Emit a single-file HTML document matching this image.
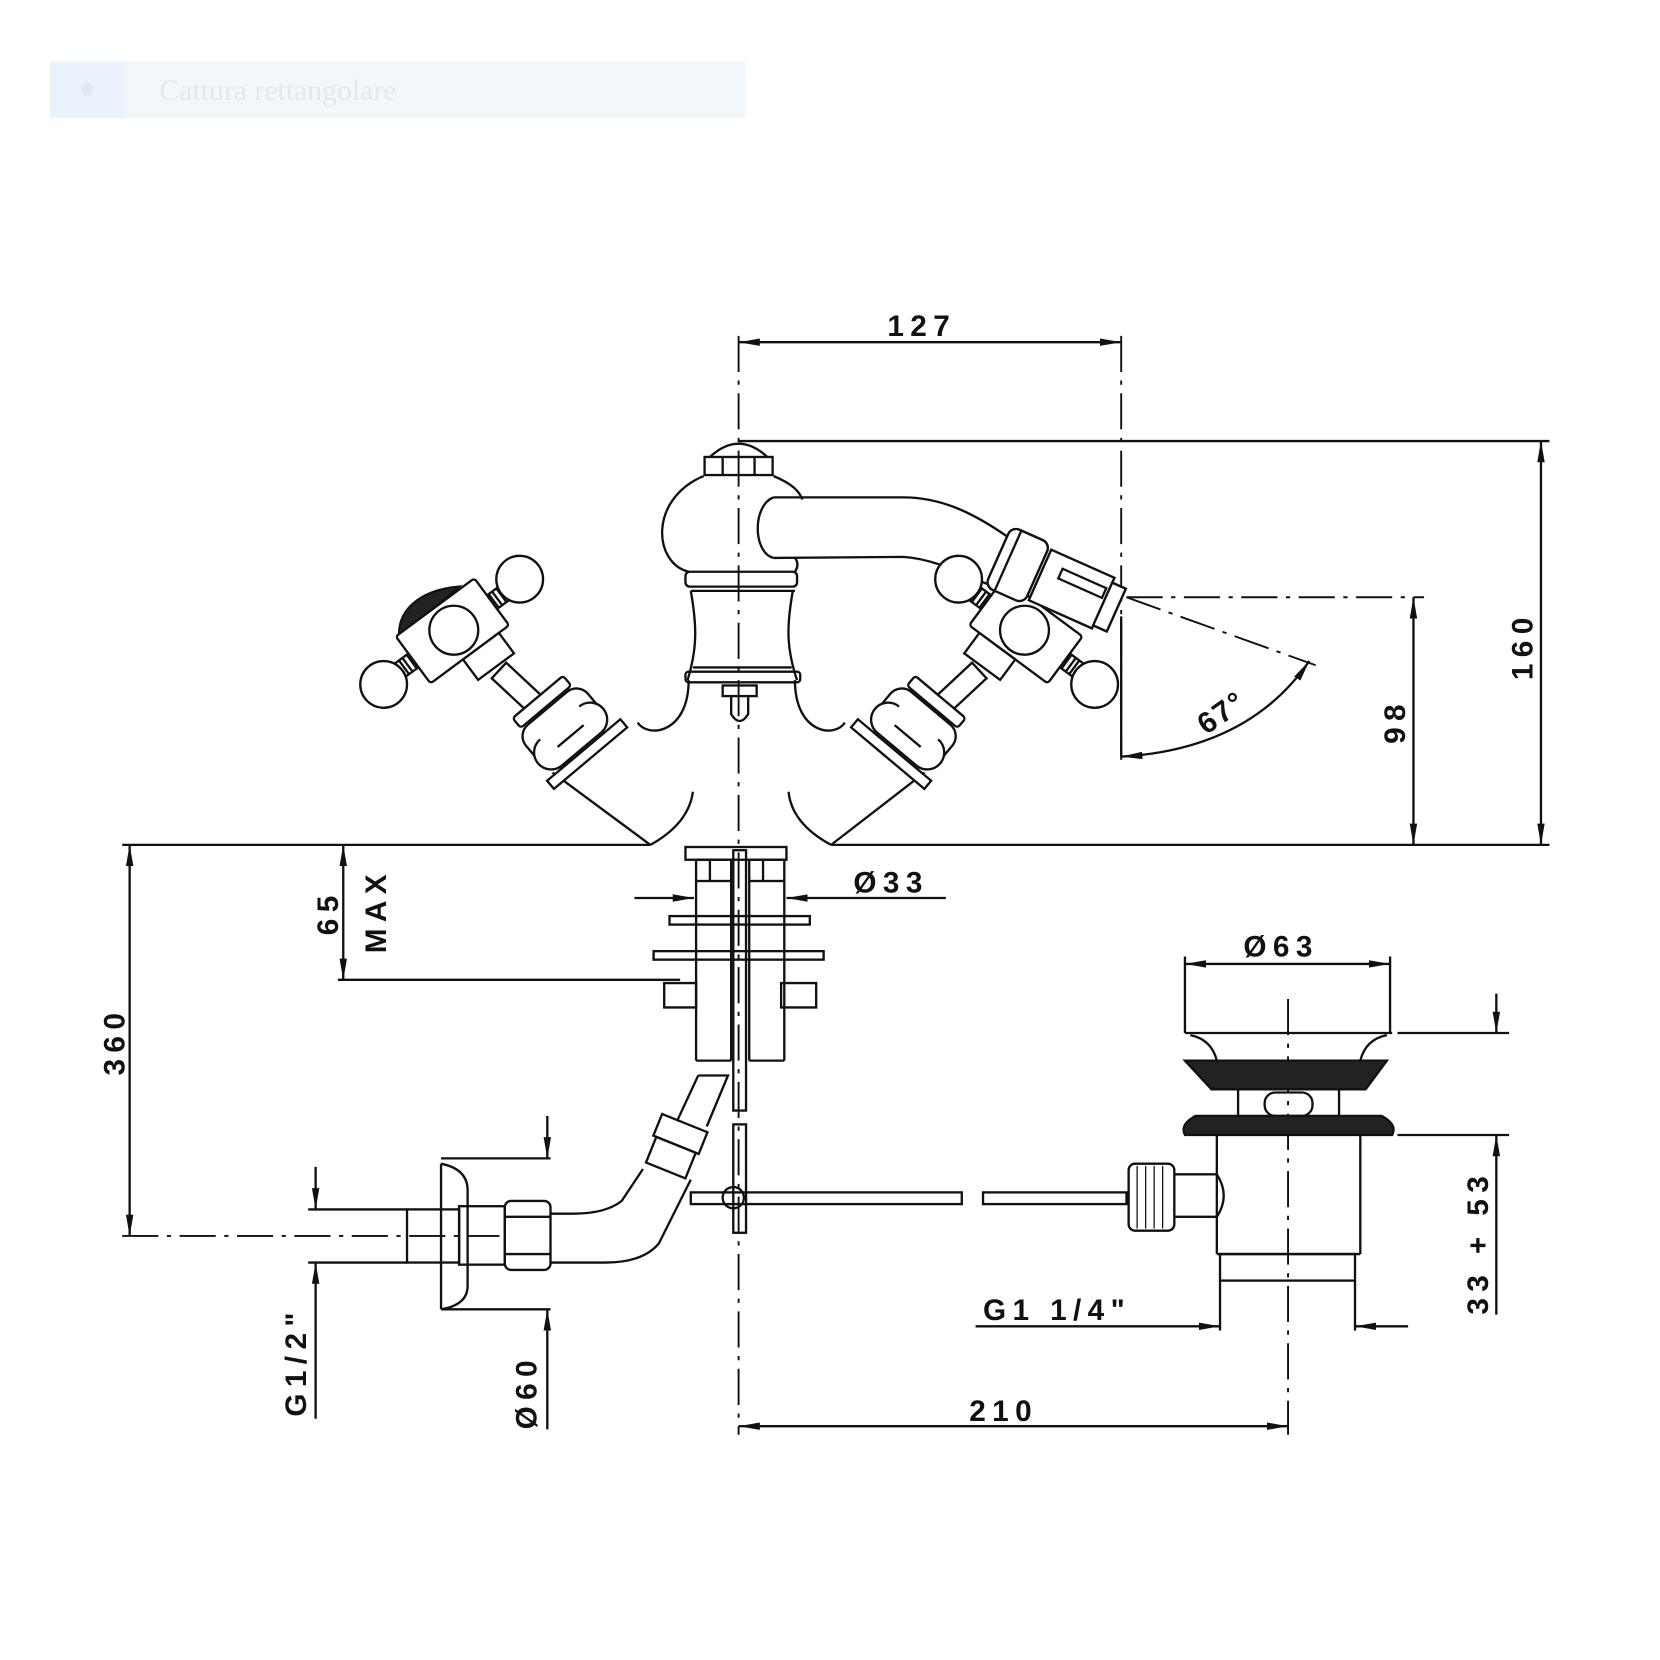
<!DOCTYPE html>
<html><head><meta charset="utf-8"><style>
html,body{margin:0;padding:0;background:#fff;}
svg{display:block;}
text{font-family:"Liberation Sans",sans-serif;font-weight:bold;fill:#111;}
</style></head><body>
<svg width="1660" height="1660" viewBox="0 0 1562 1562" xmlns="http://www.w3.org/2000/svg">
<defs>
<marker id="a" viewBox="0 0 20 8" refX="20" refY="4" markerWidth="20" markerHeight="8" markerUnits="userSpaceOnUse" orient="auto"><path d="M0,0.5 L20,4 L0,7.5 Z" fill="#111"/></marker>
<marker id="s" viewBox="0 0 20 8" refX="0" refY="4" markerWidth="20" markerHeight="8" markerUnits="userSpaceOnUse" orient="auto"><path d="M20,0.5 L0,4 L20,7.5 Z" fill="#111"/></marker>
</defs>
<rect width="1562" height="1562" fill="#fff"/>
<!-- banner -->
<rect x="47" y="58" width="655" height="53" fill="#f2f7fc"/>
<rect x="47" y="58" width="70" height="53" fill="#eaf2fb"/>
<circle cx="82" cy="84" r="6" fill="#e2e8ef"/>
<text x="150" y="94" font-size="28" style="font-family:'Liberation Serif',serif;font-weight:normal;fill:#e3e8ee">Cattura rettangolare</text>

<g fill="none" stroke="#111" stroke-width="2.2">
<!-- axes dash-dot -->
<g stroke-dasharray="34,8,4,8" stroke-width="1.8">
<line x1="695" y1="316" x2="695" y2="1350"/>
<line x1="1055" y1="316" x2="1055" y2="715"/>
<line x1="1060" y1="562" x2="1340" y2="562"/>
<line x1="1060" y1="562" x2="1238" y2="626"/>
<line x1="115" y1="1163" x2="470" y2="1163"/>
<line x1="1212" y1="940" x2="1212" y2="1350"/>
</g>
<!-- 127 -->
<line x1="695" y1="322" x2="1055" y2="322" marker-start="url(#s)" marker-end="url(#a)"/>
<!-- 160 -->
<line x1="695" y1="415" x2="1458" y2="415"/>
<line x1="1450" y1="415" x2="1450" y2="795" marker-start="url(#s)" marker-end="url(#a)"/>
<!-- baseline -->
<line x1="115" y1="795" x2="612" y2="795"/>
<line x1="782" y1="795" x2="1458" y2="795"/>
<!-- 98 -->
<line x1="1330" y1="562" x2="1330" y2="795" marker-start="url(#s)" marker-end="url(#a)"/>
<!-- 67 arc -->
<line x1="1055" y1="712" x2="1055" y2="580"/>
<path d="M1055,712 Q1175,705 1232,622" marker-start="url(#s)" marker-end="url(#a)"/>

<!-- faucet top -->
<path d="M668,430 Q695,405 722,430"/>
<rect x="663" y="430" width="64" height="17"/>
<line x1="680" y1="430" x2="680" y2="447"/><line x1="710" y1="430" x2="710" y2="447"/>
<path d="M662,448 C610,470 615,530 648,538"/>
<path d="M728,448 C745,455 752,462 755,470"/>
<path d="M748,525 C752,530 750,535 748,538"/>
<rect x="645" y="538" width="105" height="14" rx="4"/>
<line x1="650" y1="556" x2="748" y2="556"/>
<path d="M650,556 C656,590 656,610 647,640 M746,556 C740,590 740,610 750,640"/>
<line x1="652" y1="628" x2="745" y2="628"/>
<rect x="645" y="632" width="108" height="10" rx="3"/>
<rect x="680" y="645" width="32" height="10"/>
<path d="M688,655 L688,672 Q696,685 704,672 L704,655"/>
<!-- spout -->
<path d="M728,468 L850,468 C885,468 915,482 948,505"/>
<path d="M728,525 L850,524 C880,526 905,540 935,552"/>
<path d="M728,468 C708,475 708,520 728,525"/>
<g transform="rotate(24 990 545)">
<rect x="935" y="515" width="40" height="62" rx="8"/>
<line x1="945" y1="515" x2="945" y2="577"/>
<rect x="978" y="520" width="65" height="52"/>
<rect x="995" y="532" width="45" height="10"/>
<rect x="1043" y="525" width="14" height="44"/>
</g>
<!-- body lower -->
<path d="M648,640 C648,690 610,695 600,680"/>
<path d="M748,640 C748,690 785,695 795,680"/>
<line x1="520" y1="727" x2="612" y2="795"/>
<line x1="870" y1="727" x2="782" y2="795"/>
<path d="M652,745 Q648,775 612,795"/><path d="M742,745 Q745,775 782,795"/>

<!-- hatched dome (left only) -->
<path d="M376,602 C372,575 395,555 432,552 Z" fill="#222"/>
<!-- left handle -->
<g id="lh" fill="#fff">
<!-- stem -->
<g transform="rotate(43 490 650)"><rect x="462" y="640" width="56" height="20"/></g>
<g transform="rotate(-36.5 426 594)">
<rect x="474" y="586" width="14" height="16"/>
<rect x="364" y="586" width="14" height="16"/>
<line x1="478" y1="586" x2="478" y2="602"/><line x1="483" y1="586" x2="483" y2="602"/>
<line x1="369" y1="586" x2="369" y2="602"/><line x1="373" y1="586" x2="373" y2="602"/>
<rect x="418" y="621" width="42" height="24"/>
<rect x="380" y="566" width="92" height="55" rx="3"/>
</g>
<circle cx="427" cy="593" r="23"/>
<circle cx="489" cy="545" r="22"/><circle cx="361" cy="644" r="22"/>
<g transform="rotate(-40 540 690)">
<rect x="505" y="642" width="62" height="12" rx="3"/>
<rect x="498" y="656" width="76" height="50" rx="14"/>
<rect x="492" y="708" width="90" height="10"/>
<path d="M512,706 A16,16 0 0 1 512,674 M560,706 A16,16 0 0 0 560,674 M520,690 L552,690"/>
</g>
</g>
<use href="#lh" transform="translate(1391,0) scale(-1,1)"/>
<!-- redraw spout nozzle over right knob -->
<g transform="rotate(24 990 545)" fill="#fff">
<rect x="935" y="515" width="40" height="62" rx="8"/>
<line x1="945" y1="515" x2="945" y2="577"/>
<rect x="978" y="520" width="65" height="52"/>
<rect x="995" y="532" width="45" height="10"/>
<rect x="1043" y="525" width="14" height="44"/>
</g>

<!-- lower shank -->
<rect x="645" y="797" width="95" height="12"/>
<rect x="655" y="809" width="33" height="20"/><rect x="705" y="809" width="33" height="20"/>
<line x1="668" y1="809" x2="668" y2="829"/><line x1="718" y1="809" x2="718" y2="829"/>
<path d="M655,829 L655,998 M688,829 L688,998 M705,829 L705,998 M738,829 L738,998"/>
<line x1="655" y1="998" x2="688" y2="998"/><line x1="705" y1="998" x2="738" y2="998"/>
<rect x="690" y="800" width="12" height="245"/>
<rect x="690" y="1058" width="12" height="102"/>
<rect x="630" y="862" width="132" height="8"/>
<rect x="615" y="895" width="160" height="8"/>
<path d="M625,925 L655,925 L655,948 L625,948 Z M735,925 L768,925 L768,948 L735,948 Z"/>
<!-- Ø33 -->
<line x1="597" y1="845" x2="653" y2="845" marker-end="url(#a)"/>
<line x1="890" y1="845" x2="740" y2="845" marker-end="url(#a)"/>
<!-- 65 MAX -->
<line x1="323" y1="795" x2="323" y2="922" marker-start="url(#s)" marker-end="url(#a)"/>
<line x1="318" y1="922" x2="640" y2="922"/>
<!-- 360 -->
<line x1="122" y1="795" x2="122" y2="1163" marker-start="url(#s)" marker-end="url(#a)"/>
<!-- hose -->
<path d="M657,1012 L685,1012 L665,1060 M657,1012 L637,1055"/>
<g transform="rotate(22 635 1080)">
<rect x="612" y="1055" width="46" height="22"/>
<rect x="615" y="1077" width="40" height="26"/>
</g>
<path d="M605,1100 L585,1130 Q570,1142 540,1142 L518,1142"/>
<path d="M650,1110 L620,1170 Q605,1188 570,1188 L518,1188"/>
<rect x="475" y="1130" width="43" height="65" rx="6"/>
<line x1="475" y1="1145" x2="518" y2="1145"/><line x1="475" y1="1180" x2="518" y2="1180"/>
<rect x="432" y="1135" width="43" height="55"/>
<rect x="383" y="1138" width="49" height="50"/>
<path d="M415,1095 L415,1232 M415,1095 Q440,1100 440,1120 L440,1210 Q440,1228 415,1232"/>
<!-- Ø60 -->
<line x1="415" y1="1090" x2="518" y2="1090"/>
<line x1="515" y1="1050" x2="515" y2="1090" marker-end="url(#a)"/>
<line x1="415" y1="1232" x2="518" y2="1232"/>
<line x1="515" y1="1345" x2="515" y2="1232" marker-end="url(#a)"/>
<!-- G1/2 -->
<line x1="290" y1="1138" x2="383" y2="1138"/>
<line x1="290" y1="1188" x2="383" y2="1188"/>
<line x1="297" y1="1098" x2="297" y2="1138" marker-end="url(#a)"/>
<line x1="297" y1="1335" x2="297" y2="1188" marker-end="url(#a)"/>
<!-- rod -->
<rect x="650" y="1122" width="255" height="11"/>
<rect x="925" y="1122" width="135" height="11"/>
<circle cx="690" cy="1127" r="10"/>
<!-- drain -->
<rect x="1062" y="1095" width="43" height="63" rx="6"/>
<path d="M1070,1097 L1070,1156 M1078,1097 L1078,1156 M1086,1097 L1086,1156 M1094,1097 L1094,1156" stroke-width="1.2"/>
<path d="M1105,1105 L1145,1105 M1105,1145 L1145,1145"/>
<path d="M1145,1105 Q1158,1125 1145,1145"/>
<path d="M1145,1068 L1145,1180 M1280,1068 L1280,1180 M1145,1180 L1280,1180"/>
<rect x="1148" y="1180" width="127" height="25"/>
<line x1="1115" y1="972" x2="1310" y2="972"/>
<path d="M1120,974 Q1140,978 1145,998 M1305,974 Q1285,978 1280,998"/>
<path d="M1115,998 L1305,998 L1285,1025 L1140,1025 Z" fill="#222"/>
<path d="M1165,1025 L1165,1050 M1260,1025 L1260,1050"/>
<rect x="1190" y="1028" width="45" height="22" rx="10"/>
<path d="M1125,1050 L1300,1050 Q1315,1058 1310,1068 L1115,1068 Q1110,1058 1125,1050 Z" fill="#222"/>
<!-- Ø63 -->
<line x1="1115" y1="900" x2="1115" y2="972"/><line x1="1308" y1="900" x2="1308" y2="972"/>
<line x1="1115" y1="907" x2="1308" y2="907" marker-start="url(#s)" marker-end="url(#a)"/>
<!-- 33÷53 -->
<line x1="1315" y1="972" x2="1420" y2="972"/><line x1="1315" y1="1068" x2="1420" y2="1068"/>
<line x1="1408" y1="935" x2="1408" y2="972" marker-end="url(#a)"/>
<line x1="1408" y1="1237" x2="1408" y2="1068" marker-end="url(#a)"/>
<!-- G1 1/4 -->
<line x1="1148" y1="1205" x2="1148" y2="1252"/><line x1="1275" y1="1205" x2="1275" y2="1252"/>
<line x1="918" y1="1248" x2="1148" y2="1248" marker-end="url(#a)"/>
<line x1="1325" y1="1248" x2="1275" y2="1248" marker-end="url(#a)"/>
<!-- 210 -->
<line x1="695" y1="1342" x2="1212" y2="1342" marker-start="url(#s)" marker-end="url(#a)"/>
</g>

<g font-size="28" letter-spacing="6">
<text x="835" y="316">127</text>
<text x="803" y="840">Ø33</text>
<text x="1170" y="900">Ø63</text>
<text x="925" y="1242">G1 1/4"</text>
<text x="912" y="1337">210</text>
<text transform="translate(1442,640) rotate(-90)">160</text>
<text transform="translate(1322,700) rotate(-90)">98</text>
<text transform="translate(117,1012) rotate(-90)">360</text>
<text transform="translate(318,880) rotate(-90)">65</text>
<text transform="translate(363,897) rotate(-90)">MAX</text>
<text transform="translate(288,1333) rotate(-90)">G1/2"</text>
<text transform="translate(505,1345) rotate(-90)">Ø60</text>
<text transform="translate(1400,1237) rotate(-90)">33 + 53</text>
<text transform="translate(1135,692) rotate(-35)" letter-spacing="2">67°</text>
</g>
</svg>
</body></html>
